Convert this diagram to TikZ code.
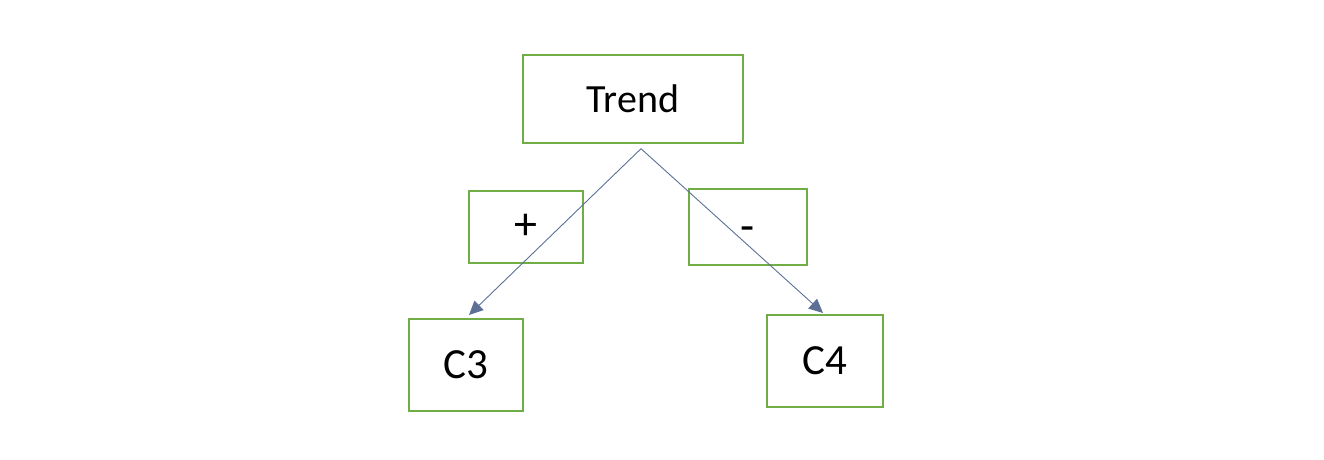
\documentclass[tikz,border=0pt]{standalone}
\usepackage{fontspec}
\setmainfont{Carlito}
\usetikzlibrary{arrows.meta}
\definecolor{boxgreen}{RGB}{112,173,71}
\definecolor{arrowblue}{RGB}{92,112,150}
\tikzset{
  gbox/.style={draw=boxgreen, line width=2pt, inner sep=0pt, anchor=center, fill=none},
  conn/.style={draw=arrowblue, line width=0.9pt, -{Triangle[length=14pt,width=13pt]}}
}
\begin{document}
\begin{tikzpicture}[x=1pt,y=-1pt]
\useasboundingbox (0,0) rectangle (1324,460);
\node[gbox, minimum width=220pt, minimum height=88pt, font=\fontsize{40}{44}\selectfont] (trend) at (633,98.7) {Trend};
\node[gbox, minimum width=114pt, minimum height=72pt, text height=25pt, text depth=0pt, font=\fontsize{46}{50}\selectfont] (plus) at (526,227) {+};
\node[gbox, minimum width=118pt, minimum height=76pt, text height=28pt, text depth=0pt, font=\fontsize{46}{50}\selectfont] (minus) at (748,227) {-};
\node[gbox, minimum width=114pt, minimum height=92pt, font=\fontsize{43}{48}\selectfont] (c3) at (466,365) {C3};
\node[gbox, minimum width=116pt, minimum height=92pt, font=\fontsize{43}{48}\selectfont] (c4) at (825,361) {C4};
\coordinate (src) at ([xshift=8pt,yshift=-5pt]trend.south);
\draw[conn] (src) -- ([xshift=3pt,yshift=3pt]c3.north);
\draw[conn] (src) -- ([xshift=-2pt,yshift=1pt]c4.north);
\end{tikzpicture}
\end{document}
